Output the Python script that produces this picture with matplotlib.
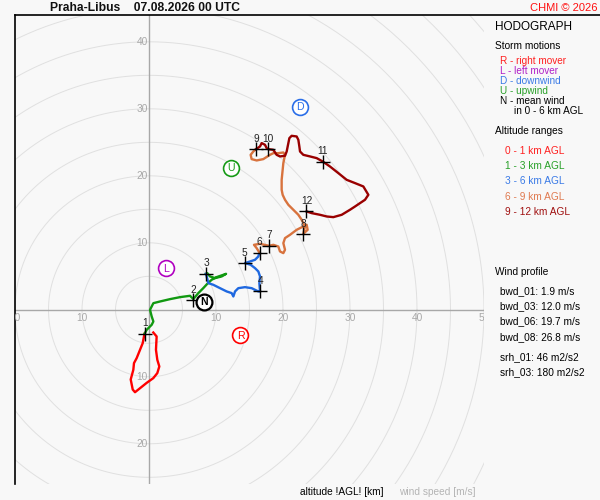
import matplotlib
matplotlib.use("Agg")
import matplotlib.pyplot as plt
import numpy as np
from matplotlib.lines import Line2D

plt.rcParams['font.family'] = ['Liberation Sans', 'DejaVu Sans']

# hodograph traces (u, v) in m/s, split by altitude range
u_0_1 = [0.64, 1.14, 1.04, 1.24, 1.54, 1.24, 0.64, -0.34, -1.34, -2.09, -2.43, -2.73,
         -2.34, -2.24, -1.84, -1.34, -0.94, -0.75, -0.65]
v_0_1 = [-3.39, -3.98, -5.97, -7.46, -8.46, -9.45, -10.2, -10.9, -11.7, -12.3, -11.9, -10.4,
         -8.96, -7.96, -7.21, -5.97, -4.98, -3.98, -3.55]

u_1_3 = [-0.65, -0.35, 0.40, 0.65, 0.40, 0.15, 0.65, 1.64, 3.13, 4.63, 6.12, 6.62,
         7.36, 8.10, 8.70, 9.35, 10.1, 11.09, 11.5, 10.85, 9.85, 9.10, 8.70, 8.50]
v_1_3 = [-3.55, -2.99, -2.24, -1.74, -0.99, 0.0, 0.99, 1.24, 1.59, 1.89, 2.09, 1.6,
         2.49, 3.23, 3.88, 4.48, 4.88, 5.22, 5.37, 4.98, 4.73, 4.98, 5.47, 5.37]

u_3_6 = [8.50, 8.86, 9.60, 10.6, 11.59, 12.34, 12.59, 12.84, 13.33, 14.33, 15.32, 16.32,
         16.57, 16.47, 16.57, 16.32, 15.82, 15.17, 14.33, 15.07, 15.82, 16.32, 16.47]
v_3_6 = [5.37, 3.98, 3.73, 3.23, 2.74, 2.49, 1.99, 2.74, 3.23, 3.38, 3.23, 2.74,
         2.74, 3.98, 4.98, 5.72, 6.22, 6.72, 6.97, 7.21, 7.46, 7.96, 8.56]

u_6_9 = [16.47, 16.07, 15.67, 16.57, 17.91, 18.56, 19.30, 19.55, 20.05, 20.3, 20.05, 20.3,
         21.04, 22.04, 23.03, 23.53, 23.68, 23.03, 23.28, 22.79, 22.29, 21.54, 20.80, 20.3,
         19.95, 19.8, 19.8, 19.95, 20.05, 20.2, 20.3, 20.05, 19.30, 18.56, 18.06, 17.06,
         16.07, 15.32, 15.17, 15.57, 15.97]
v_6_9 = [8.56, 9.20, 9.70, 9.85, 9.55, 9.70, 9.45, 8.71, 8.46, 8.96, 9.95, 10.70,
         11.19, 11.94, 12.44, 12.69, 11.94, 11.34, 12.44, 13.43, 14.18, 14.93, 15.67, 16.42,
         17.16, 17.91, 19.40, 20.90, 21.89, 22.64, 23.13, 23.48, 23.38, 23.38, 23.13, 22.49,
         22.29, 22.49, 23.13, 23.63, 23.98]

u_9_12 = [15.97, 16.57, 16.82, 17.31, 17.56, 17.81, 18.56, 19.05, 19.55, 20.3, 20.55, 20.80,
          20.95, 21.29, 22.04, 22.29, 22.44, 22.54, 23.03, 24.03, 25.02, 25.92, 27.01, 28.26,
          29.50, 30.75, 31.99, 32.74, 32.24, 31.49, 30.75, 30.0, 28.76, 27.51, 26.52, 25.52,
          24.28, 23.53]
v_9_12 = [23.98, 24.38, 24.88, 24.63, 24.13, 23.98, 23.88, 23.13, 22.89, 22.99, 23.63, 24.88,
          25.62, 25.97, 25.87, 25.37, 24.38, 23.63, 23.13, 22.89, 22.64, 22.14, 21.39, 20.40,
          19.40, 18.91, 18.41, 17.16, 16.42, 15.92, 15.42, 14.93, 14.18, 13.83, 13.93, 14.18,
          14.43, 14.68]

# km markers
km_labels = ['1', '2', '3', '4', '5', '6', '7', '8', '9', '10', '11', '12']
km_u = [-0.65, 6.6, 8.5, 16.6, 14.3, 16.5, 17.9, 23.0, 16.0, 17.8, 25.9, 23.5]
km_v = [-3.55, 1.45, 5.37, 2.74, 6.97, 8.5, 9.55, 11.3, 24.0, 24.0, 22.1, 14.7]

# storm motions
storm_labels = ['R', 'L', 'D', 'U', 'N']
storm_u = [13.65, 2.5, 22.6, 12.3, 8.2]
storm_v = [-3.8, 6.2, 30.3, 21.2, 1.2]
storm_colors = ['#ff0000', '#b000c0', '#2a6ee8', '#169a16', '#000000']

range_labels = ['0 - 1 km AGL', '1 - 3 km AGL', '3 - 6 km AGL', '6 - 9 km AGL', '9 - 12 km AGL']
range_colors = ['#ff0000', '#119911', '#1f68e0', '#d8733e', '#990000']
range_text_colors = ['#ff2020', '#28a028', '#3a7ae6', '#e07a50', '#a01010']

storm_texts = ['R - right mover', 'L - left mover', 'D - downwind', 'U - upwind', 'N - mean wind']
storm_text_colors = ['#ff2020', '#b020c8', '#3a7ae6', '#28a028', '#000000']

profile_texts = ['bwd_01: 1.9 m/s', 'bwd_03: 12.0 m/s', 'bwd_06: 19.7 m/s', 'bwd_08: 26.8 m/s',
                 'srh_01: 46 m2/s2', 'srh_03: 180 m2/s2']

bg = '#f8f8f8'
fig = plt.figure(figsize=(6, 5), dpi=100, facecolor=bg)
ax = fig.add_axes([15 / 600, 1 - 484 / 500, 469 / 600, 469 / 500])
ax.set_facecolor(bg)
ax.set_xlim(-20, 50)
ax.set_ylim(-26, 44)
ax.set_aspect('equal')
for s in ['right', 'bottom', 'top']:
    ax.spines[s].set_visible(False)
ax.spines['left'].set_color('black')
ax.spines['left'].set_linewidth(1.2)
ax.set_xticks([])
ax.set_yticks([])

# rings
t = np.linspace(0, 2 * np.pi, 400)
for r in range(5, 80, 5):
    ax.plot(r * np.cos(t), r * np.sin(t), color='#e0e0e0', lw=0.7, zorder=1)
ax.axhline(0, color='#a8a8a8', lw=1, zorder=2)
ax.axvline(0, color='#a8a8a8', lw=1, zorder=2)

for r in [10, 20, 30, 40, 50]:
    ax.text(r, -1.25, str(r), color='#a8a8a8', fontsize=7.3, ha='center', va='center', clip_on=True)
for r in [10, 20]:
    ax.text(-r, -1.25, str(r), color='#a8a8a8', fontsize=7.3, ha='center', va='center', clip_on=True)
for r in [10, 20, 30, 40]:
    ax.text(-0.15, r, str(r), color='#a8a8a8', fontsize=7.3, ha='right', va='center')
for r in [10, 20]:
    ax.text(-0.15, -r, str(r), color='#a8a8a8', fontsize=7.3, ha='right', va='center')

traces = [(u_0_1, v_0_1), (u_1_3, v_1_3), (u_3_6, v_3_6), (u_6_9, v_6_9), (u_9_12, v_9_12)]
for (u, v), c in zip(traces, range_colors):
    ax.plot(u, v, color=c, lw=1.7, zorder=3, solid_joinstyle='round')

ax.scatter(km_u, km_v, marker='+', s=110, color='black', linewidths=1.0, zorder=5)
for lab, u, v in zip(km_labels, km_u, km_v):
    ax.annotate(lab, (u, v), xytext=(0, 7.5), textcoords='offset points',
                ha='center', va='center', fontsize=7.3, color='#222222', zorder=6)

for lab, u, v, c in zip(storm_labels, storm_u, storm_v, storm_colors):
    lw = 1.6 if lab == 'N' else 1.2
    ax.scatter([u], [v], s=130, facecolor='white', edgecolor=c, linewidths=lw, zorder=7)
    ax.text(u, v - 0.05, lab, color=c, fontsize=7.6, ha='center', va='center', zorder=8,
            fontweight='bold' if lab == 'N' else 'normal')

# top border line across the full width
fig.add_artist(Line2D([15 / 600, 1.0], [1 - 15 / 500, 1 - 15 / 500], color='black', lw=1.2))

fig.text(50 / 600, 1 - 8 / 500, 'Praha-Libus    07.08.2026 00 UTC', fontsize=8.7, fontweight='bold',
         ha='left', va='center', color='#111111')
fig.text(598 / 600, 1 - 8 / 500, 'CHMI \u00a9 2026', fontsize=8, color='#ff1010', ha='right', va='center')

# right panel
def ft(x, y, s, **kw):
    fig.text(x / 600, 1 - y / 500, s, ha='left', va='center', **kw)

ft(495, 27, 'HODOGRAPH', fontsize=8.5, color='black')
ft(495, 46, 'Storm motions', fontsize=7.3, color='black')
for i, (s, c) in enumerate(zip(storm_texts, storm_text_colors)):
    ft(500, 61 + 10 * i, s, fontsize=7.2, color=c)
ft(514, 111, 'in 0 - 6 km AGL', fontsize=7.2, color='black')
ft(495, 131, 'Altitude ranges', fontsize=7.3, color='black')
for i, (s, c) in enumerate(zip(range_labels, range_text_colors)):
    ft(505, 151 + 15.2 * i, s, fontsize=7.3, color=c)
ft(495, 272, 'Wind profile', fontsize=7.3, color='black')
for i, s in enumerate(profile_texts):
    y = 291 + 15.3 * i + (5 if i >= 4 else 0)
    ft(500, y, s, fontsize=7.3, color='black')

fig.text(300 / 600, 1 - 492 / 500, 'altitude !AGL! [km]', fontsize=7.3, color='black', ha='left', va='center')
fig.text(399 / 600, 1 - 492 / 500, 'wind speed [m/s]', fontsize=7.3, color='#b4b4b4', ha='left', va='center')

fig.savefig('out.png', dpi=100, facecolor=bg)
